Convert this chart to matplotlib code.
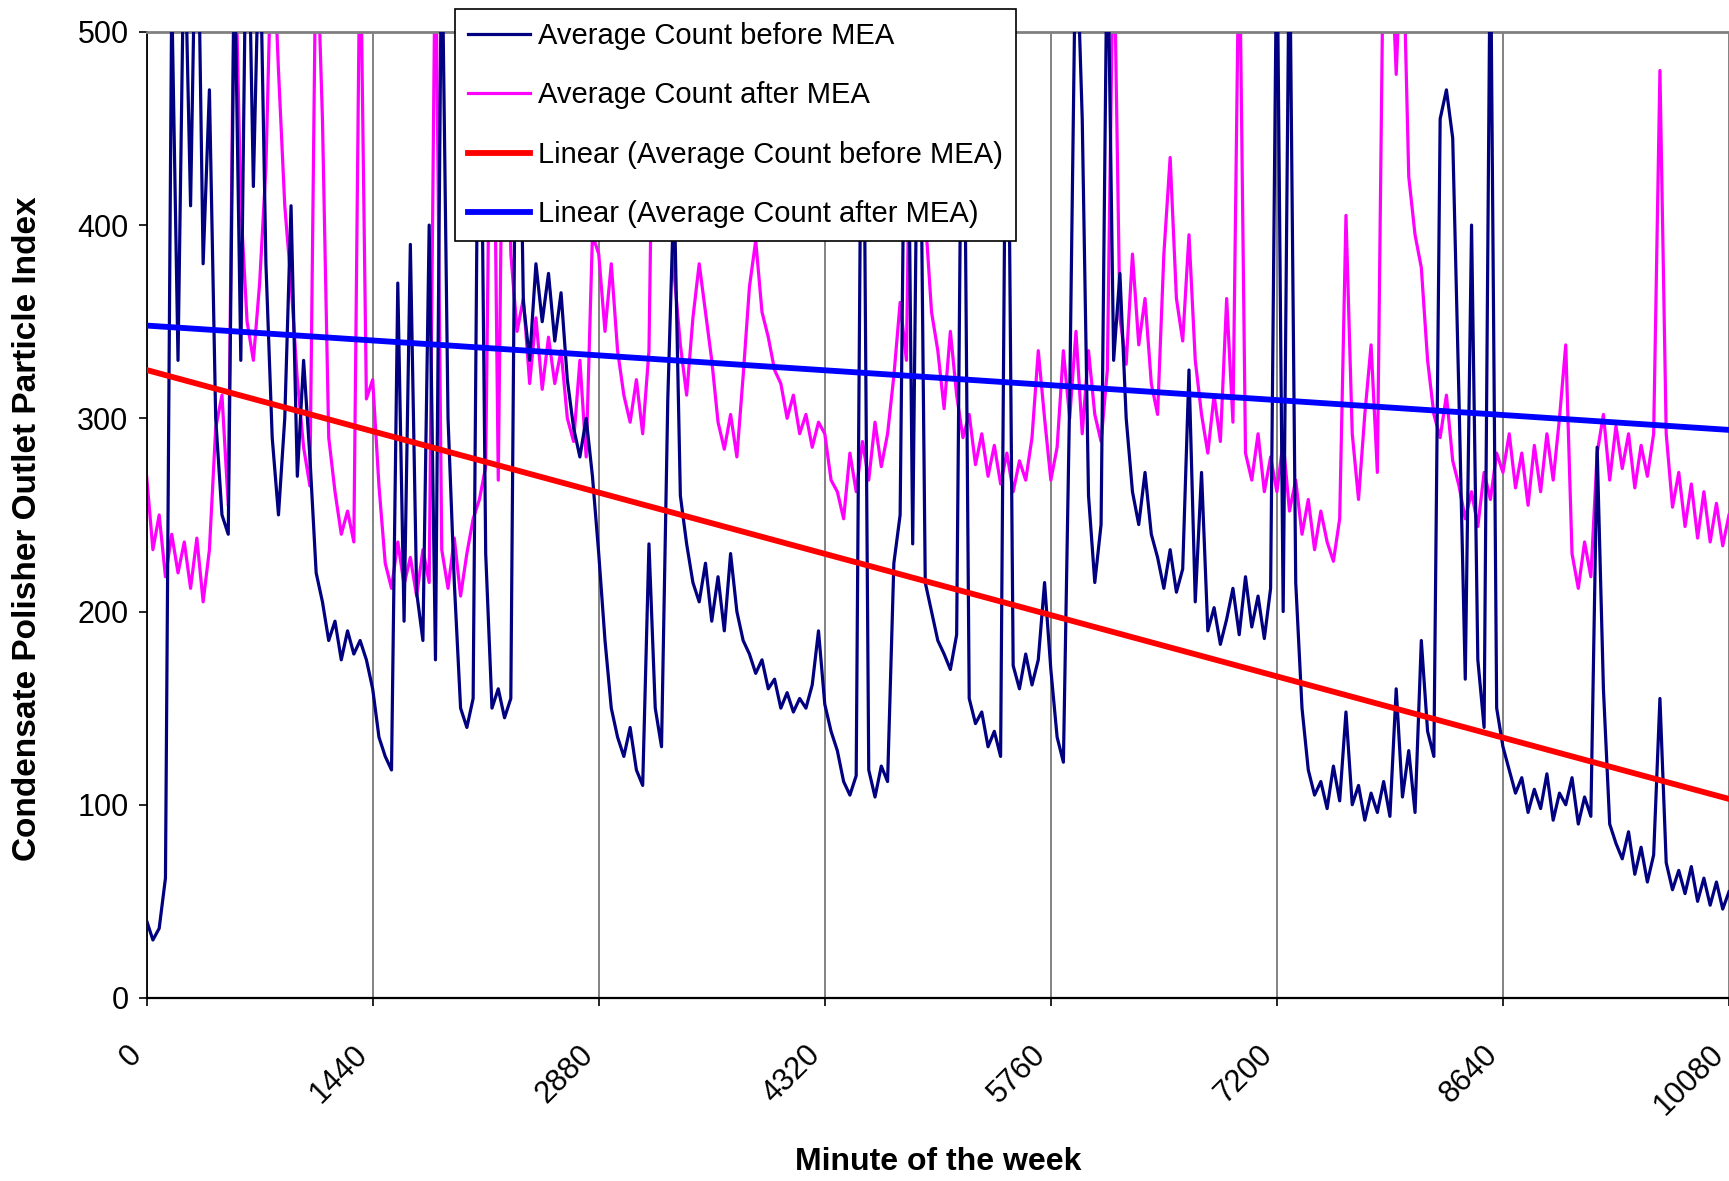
import numpy as np
import matplotlib
matplotlib.use('Agg')
import matplotlib.pyplot as plt
from matplotlib.transforms import ScaledTranslation

# particle index every 40 minutes, one list per day
minutes = np.arange(0, 10081, 40)

before_day1 = [40, 30, 36, 62, 520, 330, 560, 410, 600, 380, 470, 300, 250, 240, 540, 330, 600, 420,
               560, 380, 290, 250, 300, 410, 270, 330, 280, 220, 205, 185, 195, 175, 190, 178, 185, 175]
before_day2 = [160, 135, 125, 118, 370, 195, 390, 210, 185, 400, 175, 560, 300, 215, 150, 140, 155, 560,
               230, 150, 160, 145, 155, 560, 360, 330, 380, 350, 375, 340, 365, 320, 295, 280, 300, 270]
before_day3 = [230, 185, 150, 135, 125, 140, 118, 110, 235, 150, 130, 310, 420, 260, 235, 215, 205, 225,
               195, 218, 190, 230, 200, 185, 178, 168, 175, 160, 165, 150, 158, 148, 155, 150, 162, 190]
before_day4 = [152, 138, 128, 112, 105, 115, 560, 118, 104, 120, 112, 225, 250, 560, 235, 540, 215, 200,
               185, 178, 170, 188, 560, 155, 142, 148, 130, 138, 125, 560, 172, 160, 178, 162, 175, 215]
before_day5 = [170, 135, 122, 310, 560, 455, 260, 215, 245, 560, 330, 375, 300, 262, 245, 272, 240, 228,
               212, 232, 210, 222, 325, 205, 272, 190, 202, 183, 196, 212, 188, 218, 192, 208, 186, 212]
before_day6 = [560, 200, 560, 215, 150, 118, 105, 112, 98, 120, 102, 148, 100, 110, 92, 106, 96, 112,
               94, 160, 104, 128, 96, 185, 138, 125, 455, 470, 445, 310, 165, 400, 175, 140, 560, 150]
before_day7 = [130, 118, 106, 114, 96, 108, 98, 116, 92, 106, 100, 114, 90, 104, 94, 285, 160, 90,
               80, 72, 86, 64, 78, 60, 74, 155, 70, 56, 66, 54, 68, 50, 62, 48, 60, 46]
before_end = [55]

after_day1 = [270, 232, 250, 218, 240, 220, 236, 212, 238, 205, 232, 295, 312, 255, 560, 410, 350, 330,
              370, 430, 560, 480, 410, 370, 320, 285, 265, 560, 455, 290, 262, 240, 252, 236, 560, 310]
after_day2 = [320, 265, 225, 212, 236, 214, 228, 208, 232, 215, 560, 232, 212, 238, 208, 230, 248, 258,
              275, 560, 268, 560, 385, 345, 362, 318, 352, 315, 342, 318, 335, 300, 288, 330, 280, 395]
after_day3 = [385, 345, 380, 335, 312, 298, 320, 292, 335, 560, 430, 560, 375, 338, 312, 352, 380, 355,
              330, 298, 284, 302, 280, 322, 368, 392, 355, 342, 325, 318, 300, 312, 292, 302, 285, 298]
after_day4 = [292, 268, 262, 248, 282, 262, 288, 268, 298, 275, 292, 322, 360, 330, 560, 460, 405, 355,
              335, 305, 345, 312, 290, 302, 276, 292, 270, 286, 266, 282, 262, 278, 268, 290, 335, 300]
after_day5 = [268, 285, 335, 300, 345, 292, 335, 302, 288, 325, 560, 352, 328, 385, 338, 362, 318, 302,
              385, 435, 362, 340, 395, 330, 302, 282, 312, 288, 362, 298, 560, 282, 268, 292, 262, 280]
after_day6 = [262, 288, 252, 268, 240, 258, 232, 252, 236, 226, 248, 405, 292, 258, 302, 338, 272, 560,
              560, 478, 560, 425, 395, 378, 330, 302, 290, 312, 278, 265, 248, 262, 244, 272, 258, 282]
after_day7 = [272, 292, 264, 282, 255, 286, 262, 292, 268, 300, 338, 230, 212, 236, 218, 282, 302, 268,
              296, 274, 292, 264, 286, 270, 292, 480, 292, 254, 272, 244, 266, 238, 262, 236, 256, 234]
after_end = [250]

# excel linear trendlines (start / end values)
trend_x = [0, 10080]
before_trend = [325, 103]
after_trend = [348, 294]

xticks = [0, 1440, 2880, 4320, 5760, 7200, 8640, 10080]
yticks = [0, 100, 200, 300, 400, 500]

before = before_day1 + before_day2 + before_day3 + before_day4 + before_day5 + before_day6 + before_day7 + before_end
after = after_day1 + after_day2 + after_day3 + after_day4 + after_day5 + after_day6 + after_day7 + after_end
assert len(before) == len(minutes) and len(after) == len(minutes)

plt.rcParams['font.family'] = ['Liberation Sans', 'DejaVu Sans']

fig = plt.figure(figsize=(17.29, 11.81), dpi=100)
ax = fig.add_axes([0.0848, 0.155, 0.9152, 0.818])

l1, = ax.plot(minutes, before, color='#000080', lw=2.3, zorder=3, label='Average Count before MEA')
l2, = ax.plot(minutes, after, color='#FF00FF', lw=2.3, zorder=2, label='Average Count after MEA')
l3, = ax.plot(trend_x, before_trend, color='#FF0000', lw=4.2, zorder=4,
              label='Linear (Average Count before MEA)')
l4, = ax.plot(trend_x, after_trend, color='#0000FF', lw=4.2, zorder=4,
              label='Linear (Average Count after MEA)')

ax.set_xlim(0, 10080)
ax.set_ylim(0, 500)
ax.set_xticks(xticks)
ax.set_yticks(yticks)
ax.xaxis.grid(True, color='#606060', lw=1.1)
ax.set_axisbelow(True)

ax.spines['right'].set_visible(False)
ax.spines['top'].set_color('#808080')
ax.spines['top'].set_linewidth(2)
ax.spines['left'].set_linewidth(1.3)
ax.spines['bottom'].set_linewidth(1.6)

ax.tick_params(axis='y', direction='out', length=6, width=1.2, pad=7, labelsize=22)
ax.tick_params(axis='x', direction='out', length=6, width=1.2, pad=24, labelsize=22)
shift = ScaledTranslation(-0.2, 0, fig.dpi_scale_trans)
for lab in ax.get_xticklabels():
    lab.set_rotation(45)
    lab.set_ha('right')
    lab.set_va('top')
    lab.set_rotation_mode('anchor')
    lab.set_transform(lab.get_transform() + shift)

ax.set_ylabel('Condensate Polisher Outlet Particle Index', fontsize=24, fontweight='bold')
ax.yaxis.label.set_va('center')
ax.yaxis.set_label_coords(-0.0755, 0.4855)
ax.set_xlabel('Minute of the week', fontsize=23, fontweight='bold')
ax.xaxis.label.set_va('center')
ax.xaxis.set_label_coords(0.5, -0.170)

leg = ax.legend(handles=[l1, l2, l3, l4], loc='upper left', bbox_to_anchor=(0.195, 1.024),
                fontsize=21, fancybox=False, edgecolor='black', framealpha=1,
                borderpad=0.45, labelspacing=1.08, handlelength=2.1, handletextpad=0.3,
                borderaxespad=0)
leg.get_frame().set_linewidth(1.2)
leg.set_zorder(10)

fig.savefig('out.png', dpi=100)
